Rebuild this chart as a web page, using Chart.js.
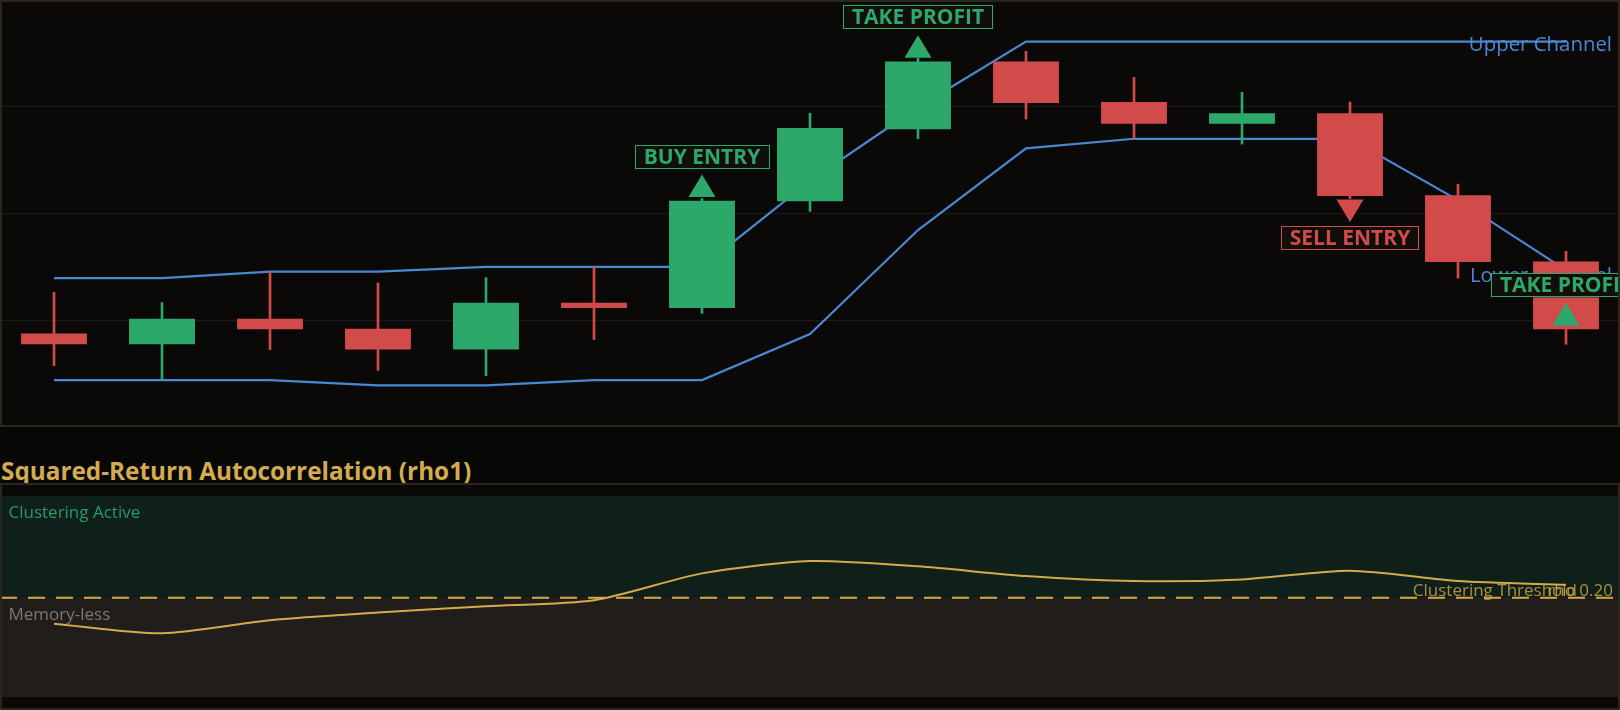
<!DOCTYPE html>
<html>
<head>
<meta charset="utf-8">
<script src="https://cdn.jsdelivr.net/npm/chart.js@4.4.1/dist/chart.umd.min.js"></script>
<style>
html,body{margin:0;padding:0;background:#070706;width:1620px;height:710px;overflow:hidden;}
#topWrap{position:absolute;left:0;top:0;width:1620px;height:427px;background:#0a0908;}
#topFrame{position:absolute;left:0;top:0;width:1620px;height:427px;box-sizing:border-box;border:2px solid #2b261d;pointer-events:none;}
#title{position:absolute;left:1px;top:459px;font:bold 24.3px "Open Sans";line-height:24px;color:#d4ab4f;white-space:nowrap;}
#botPanel{position:absolute;left:0;top:483px;width:1620px;height:227px;background:#0a0908;}
#botWrap{position:absolute;left:0;top:496px;width:1620px;height:201px;}
#botFrame{position:absolute;left:0;top:483px;width:1620px;height:227px;box-sizing:border-box;border:2px solid #2b261d;pointer-events:none;}
canvas{display:block;}
</style>
</head>
<body>
<div id="topWrap"><canvas id="topChart" width="1620" height="427"></canvas></div>
<div id="topFrame"></div>
<div id="title">Squared-Return Autocorrelation (rho1)</div>
<div id="botPanel"></div>
<div id="botWrap"><canvas id="botChart" width="1620" height="201"></canvas></div>
<div id="botFrame"></div>
<script>
// ---------- data ----------
const categories = ['Bar 1','Bar 2','Bar 3','Bar 4','Bar 5','Bar 6','Bar 7','Bar 8','Bar 9','Bar 10','Bar 11','Bar 12','Bar 13','Bar 14','Bar 15'];
const opens  = [97.75, 97.55, 98.03, 97.84, 97.45, 98.33, 98.23, 100.23, 101.58, 102.85, 102.09, 101.68, 101.88, 100.34, 99.10];
const highs  = [98.52, 98.33, 98.91, 98.70, 98.80, 99.00, 100.28, 101.88, 102.91, 103.04, 102.55, 102.27, 102.09, 100.55, 99.29];
const lows   = [97.15, 96.88, 97.45, 97.06, 96.96, 97.64, 98.13, 100.04, 101.40, 101.77, 101.40, 101.30, 100.28, 98.79, 97.55];
const closes = [97.55, 98.03, 97.83, 97.45, 98.33, 98.23, 100.24, 101.60, 102.85, 102.07, 101.68, 101.88, 100.33, 99.09, 97.83];
const upperChannel = [98.79, 98.79, 98.91, 98.91, 99.00, 99.00, 99.00, 100.61, 101.99, 103.22, 103.22, 103.22, 103.22, 103.22, 103.22];
const lowerChannel = [96.88, 96.88, 96.88, 96.78, 96.78, 96.88, 96.88, 97.74, 99.69, 101.22, 101.40, 101.40, 101.40, 100.25, 98.94];
const signalIndex = [6, 8, 12, 14];
const signalPrice = [100.31, 102.92, 100.26, 97.90];
const signalDir   = ['up', 'up', 'down', 'up'];
const signalText  = ['BUY ENTRY', 'TAKE PROFIT', 'SELL ENTRY', 'TAKE PROFIT'];
const rho1 = [0.119, 0.090, 0.129, 0.152, 0.171, 0.189, 0.269, 0.306, 0.290, 0.261, 0.246, 0.251, 0.277, 0.246, 0.235];
const rhoThreshold = 0.20;
const priceTicks = [96, 98, 100, 102, 104];
const rhoRange = [-0.1, 0.5];

// ---------- style ----------
const GREEN = '#2ca86a', RED = '#d14b4b', BLUE = '#4a88d4', GOLD = '#d4aa4c';
const candleColors = opens.map((o, i) => closes[i] >= o ? GREEN : RED);

const channelLabels = {
  id: 'channelLabels',
  afterDatasetDraw(chart, args) {
    const ds = chart.data.datasets[args.index];
    if (!ds.channelLabel) return;
    const pts = args.meta.data;
    const last = pts[pts.length - 1];
    const ctx = chart.ctx;
    ctx.save();
    ctx.font = '20.4px "Open Sans"';
    ctx.fillStyle = BLUE;
    ctx.textAlign = 'right';
    ctx.textBaseline = 'alphabetic';
    ctx.fillText(ds.label, chart.chartArea.right - 8, last.y + ds.labelOffset);
    ctx.restore();
  }
};

const signalMarkers = {
  id: 'signalMarkers',
  afterDatasetsDraw(chart) {
    const ctx = chart.ctx, xs = chart.scales.x, ys = chart.scales.y;
    signalIndex.forEach((idx, k) => {
      const cx = xs.getPixelForValue(idx);
      const py = ys.getPixelForValue(signalPrice[k]);
      const up = signalDir[k] === 'up';
      const col = signalText[k].indexOf('SELL') === 0 ? RED : GREEN;
      const h = 22.5, hw = 13.5;
      ctx.save();
      ctx.fillStyle = col;
      ctx.beginPath();
      ctx.moveTo(cx - hw, py);
      ctx.lineTo(cx + hw, py);
      ctx.lineTo(cx, up ? py - h : py + h);
      ctx.closePath();
      ctx.fill();
      ctx.font = 'bold 21px "Open Sans"';
      const tw = ctx.measureText(signalText[k]).width;
      const bw = tw + 18, bh = 24;
      const by = up ? py - h - 5.7 - bh : py + h + 3.6;
      ctx.fillStyle = '#110f0c';
      ctx.fillRect(cx - bw / 2, by, bw, bh);
      ctx.strokeStyle = col;
      ctx.lineWidth = 1;
      ctx.strokeRect(Math.round(cx - bw / 2) + 0.5, Math.round(by) + 0.5, Math.round(bw) - 1, bh - 1);
      ctx.fillStyle = col;
      ctx.textAlign = 'center';
      ctx.textBaseline = 'alphabetic';
      ctx.fillText(signalText[k], cx, by + 19);
      ctx.restore();
    });
  }
};

new Chart(document.getElementById('topChart'), {
  type: 'bar',
  data: {
    labels: categories,
    datasets: [
      { type: 'line', label: 'Upper Channel', channelLabel: true, labelOffset: 9.5, data: upperChannel,
        borderColor: BLUE, borderWidth: 2.2, pointRadius: 0, tension: 0, order: 5 },
      { type: 'line', label: 'Lower Channel', channelLabel: true, labelOffset: 12, data: lowerChannel,
        borderColor: BLUE, borderWidth: 2.2, pointRadius: 0, tension: 0, order: 4 },
      { label: 'Wick', data: lows.map((l, i) => [l, highs[i]]), backgroundColor: candleColors,
        barThickness: 2, grouped: false, order: 2 },
      { label: 'Body', data: opens.map((o, i) => [o, closes[i]]), backgroundColor: candleColors,
        barPercentage: 0.61, categoryPercentage: 1, grouped: false, order: 1 }
    ]
  },
  options: {
    responsive: false, animation: false, devicePixelRatio: 1,
    layout: { padding: 0 },
    plugins: { legend: { display: false }, tooltip: { enabled: false }, title: { display: false } },
    scales: {
      x: { type: 'category', offset: true, display: false },
      y: {
        min: priceTicks[0], max: priceTicks[priceTicks.length - 1],
        afterBuildTicks: s => { s.ticks = priceTicks.map(v => ({ value: v })); },
        afterFit: s => { s.width = 0; },
        ticks: { display: false },
        grid: { color: '#1d1b18', lineWidth: 1, drawTicks: false },
        border: { display: false }
      }
    }
  },
  plugins: [channelLabels, signalMarkers]
});

const rhoZones = {
  id: 'rhoZones',
  beforeDatasetsDraw(chart) {
    const ctx = chart.ctx, a = chart.chartArea, ys = chart.scales.y;
    const ty = ys.getPixelForValue(rhoThreshold);
    ctx.save();
    ctx.fillStyle = '#0f1f19';
    ctx.fillRect(a.left, a.top, a.right - a.left, ty - a.top);
    ctx.fillStyle = '#201d1b';
    ctx.fillRect(a.left, ty, a.right - a.left, a.bottom - ty);
    ctx.strokeStyle = GOLD;
    ctx.lineWidth = 2;
    ctx.setLineDash([17, 11]);
    ctx.beginPath();
    ctx.moveTo(a.left, ty + 1.2);
    ctx.lineTo(a.right, ty + 1.2);
    ctx.stroke();
    ctx.setLineDash([]);
    ctx.font = '17px "Open Sans"';
    ctx.textBaseline = 'alphabetic';
    ctx.textAlign = 'left';
    ctx.fillStyle = '#2a9a64';
    ctx.fillText('Clustering Active', 8.5, a.top + 22);
    ctx.fillStyle = '#7d7872';
    ctx.fillText('Memory-less', 8.5, ty + 23.5);
    ctx.restore();
  },
  afterDatasetsDraw(chart) {
    const ctx = chart.ctx, a = chart.chartArea, ys = chart.scales.y;
    const ty = ys.getPixelForValue(rhoThreshold);
    ctx.save();
    ctx.font = '17px "Open Sans"';
    ctx.textBaseline = 'alphabetic';
    ctx.textAlign = 'right';
    ctx.fillStyle = 'rgba(212,170,76,0.8)';
    ctx.fillText('Clustering Threshold', a.right - 43, ty - 0.5);
    ctx.fillText('rho ' + rhoThreshold.toFixed(2), a.right - 7, ty - 0.5);
    ctx.restore();
  }
};

new Chart(document.getElementById('botChart'), {
  type: 'line',
  data: {
    labels: categories,
    datasets: [
      { label: 'rho1', data: rho1, borderColor: GOLD, borderWidth: 2, pointRadius: 0, tension: 0.25, fill: false }
    ]
  },
  options: {
    responsive: false, animation: false, devicePixelRatio: 1,
    layout: { padding: 0 },
    plugins: { legend: { display: false }, tooltip: { enabled: false } },
    scales: {
      x: { type: 'category', offset: true, display: false },
      y: { min: rhoRange[0], max: rhoRange[1], display: false }
    }
  },
  plugins: [rhoZones]
});
</script>
</body>
</html>
